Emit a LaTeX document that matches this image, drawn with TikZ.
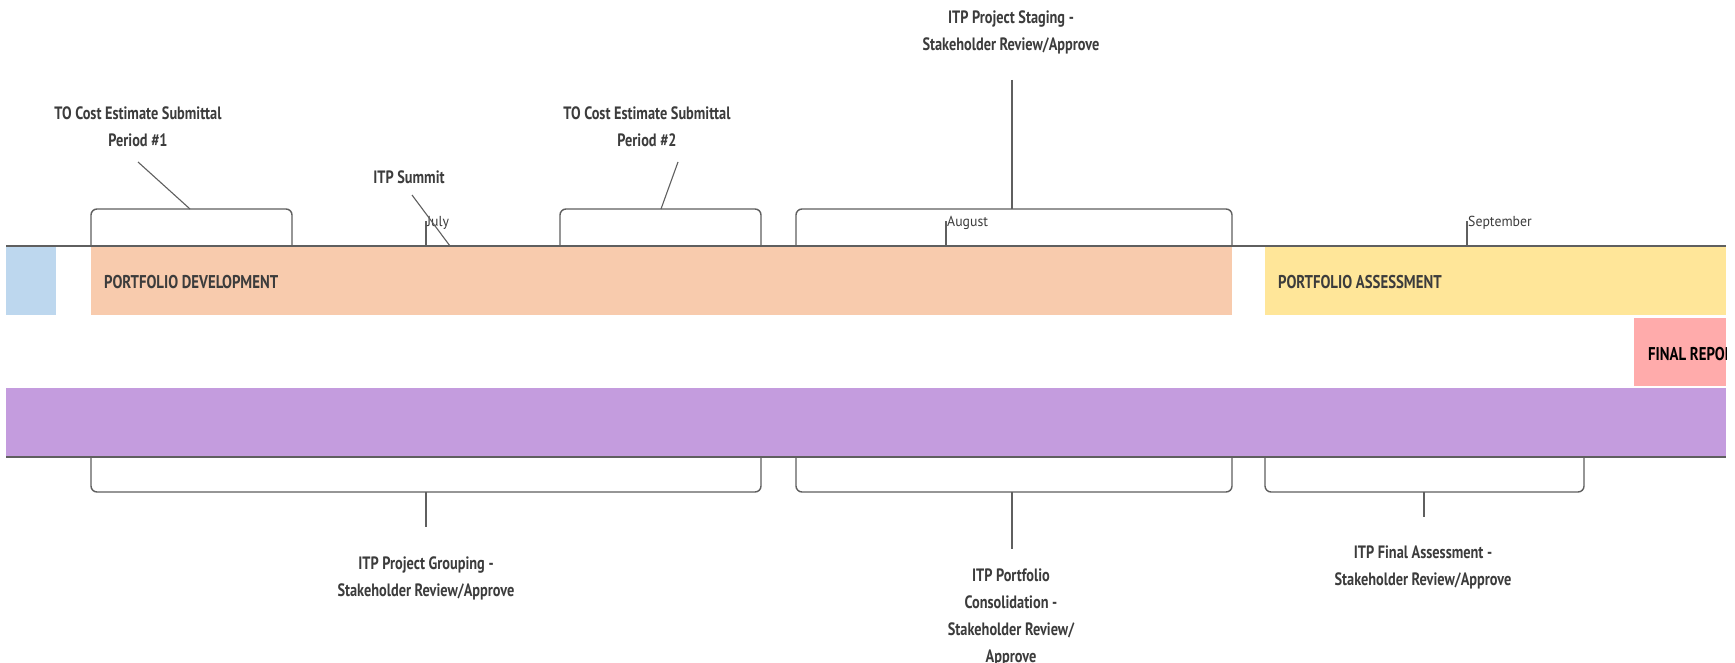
\documentclass[tikz,border=0pt]{standalone}
\usepackage{fontspec}
\setmainfont{PT Sans}[FakeStretch=0.8]
\newfontfamily\monthfont{PT Sans}[FakeStretch=0.95]
\definecolor{bluec}{HTML}{BDD7EE}
\definecolor{peachc}{HTML}{F8CBAD}
\definecolor{yellowc}{HTML}{FFE699}
\definecolor{pinkc}{HTML}{FFABAB}
\definecolor{purplec}{HTML}{C49CDE}
\definecolor{linec}{HTML}{5F5F5F}
\definecolor{textc}{HTML}{3C3C3C}
\begin{document}
\begin{tikzpicture}[x=1pt,y=-1pt,
  barbox/.style={draw=none, inner sep=0, anchor=north west},
  barlabel/.style={anchor=west, inner sep=0, text=textc, font=\fontsize{18.5}{21}\selectfont\bfseries},
  axis/.style={draw=linec, line width=1.8pt},
  bracket/.style={draw=linec, line width=1.4pt, rounded corners=6pt},
  leader/.style={draw=linec, line width=1.1pt},
  tick/.style={draw=linec, line width=1.1pt},
  callout/.style={align=center, inner sep=0, text=textc, font=\fontsize{17.9}{27}\selectfont\bfseries},
  month/.style={anchor=west, inner sep=1pt, text=textc, font=\monthfont\fontsize{14.5}{16}\selectfont}]
\useasboundingbox (0,0) rectangle (1735,663);
\fill[white] (0,0) rectangle (1735,663);

% bars
\node[barbox, fill=bluec, minimum width=50, minimum height=69] (blue) at (6,246) {};
\node[barbox, fill=peachc, minimum width=1141, minimum height=69] (dev) at (91,246) {};
\node[barbox, fill=yellowc, minimum width=461, minimum height=69] (assess) at (1265,246) {};
\node[barbox, fill=pinkc, minimum width=92, minimum height=68] (final) at (1634,318) {};
\node[barbox, fill=purplec, minimum width=1720, minimum height=69] (purple) at (6,388) {};
\node[barlabel] (devl) at (104,282) {PORTFOLIO DEVELOPMENT};
\node[barlabel] (assessl) at (1278,282) {PORTFOLIO ASSESSMENT};
\begin{scope}
\clip (1634,318) rectangle (1726,386);
\node[barlabel, text=black] (finall) at (1648,354) {FINAL REPORT};
\end{scope}

% axis lines
\coordinate (axL) at (6,246);
\coordinate (axR) at (1726,246);
\draw[axis] (axL) -- (axR);
\coordinate (bxL) at (6,457);
\coordinate (bxR) at (1726,457);
\draw[axis] (bxL) -- (bxR);

% month ticks
\coordinate (julb) at (426,246);
\coordinate (jult) at (426,221);
\draw[tick] (julb) -- (jult);
\node[month] (july) at (426,223) {July};
\coordinate (augb) at (946,246);
\coordinate (augt) at (946,221);
\draw[tick] (augb) -- (augt);
\node[month] (aug) at (946,223) {August};
\coordinate (sepb) at (1467,246);
\coordinate (sept) at (1467,221);
\draw[tick] (sepb) -- (sept);
\node[month] (sep) at (1467,223) {September};

% top brackets
\draw[bracket] (91,246) -- (91,209) -- (292,209) -- (292,246);
\draw[bracket] (560,246) -- (560,209) -- (761,209) -- (761,246);
\draw[bracket] (796,246) -- (796,209) -- (1232,209) -- (1232,246);
% bottom brackets
\draw[bracket] (91,457) -- (91,492) -- (761,492) -- (761,457);
\draw[bracket] (796,457) -- (796,492) -- (1232,492) -- (1232,457);
\draw[bracket] (1265,457) -- (1265,492) -- (1584,492) -- (1584,457);

% callouts (top)
\node[callout] (c1) at (138,127) {TO Cost Estimate Submittal\\Period \#1};
\coordinate (c1s) at (138,162);
\coordinate (c1e) at (190,209);
\draw[leader] (c1s) -- (c1e);

\node[callout] (c2) at (409,177) {ITP Summit};
\coordinate (c2s) at (412,195);
\coordinate (c2e) at (450,246);
\draw[leader] (c2s) -- (c2e);

\node[callout] (c3) at (647,127) {TO Cost Estimate Submittal\\Period \#2};
\coordinate (c3s) at (678,162);
\coordinate (c3e) at (661,209);
\draw[leader] (c3s) -- (c3e);

\node[callout] (c4) at (1011,32) {ITP Project Staging -\\Stakeholder Review/Approve};
\coordinate (c4s) at (1012,80);
\coordinate (c4e) at (1012,209);
\draw[leader] (c4s) -- (c4e);

% callouts (bottom)
\node[callout] (d1) at (426,578) {ITP Project Grouping -\\Stakeholder Review/Approve};
\coordinate (d1s) at (426,492);
\coordinate (d1e) at (426,527);
\draw[leader] (d1s) -- (d1e);

\node[callout] (d2) at (1011,617) {ITP Portfolio\\Consolidation -\\Stakeholder Review/\\Approve};
\coordinate (d2s) at (1012,492);
\coordinate (d2e) at (1012,549);
\draw[leader] (d2s) -- (d2e);

\node[callout] (d3) at (1423,567) {ITP Final Assessment -\\Stakeholder Review/Approve};
\coordinate (d3s) at (1424,492);
\coordinate (d3e) at (1424,517);
\draw[leader] (d3s) -- (d3e);
\end{tikzpicture}
\end{document}
